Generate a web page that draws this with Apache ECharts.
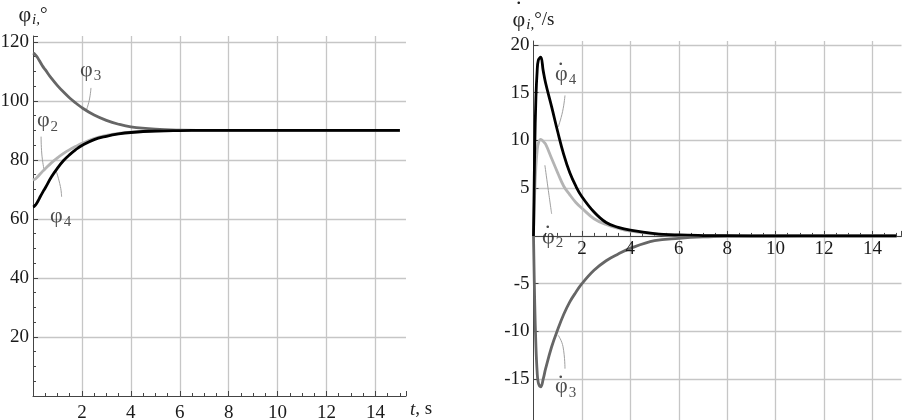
<!DOCTYPE html>
<html>
<head>
<meta charset="utf-8">
<script src="https://cdn.jsdelivr.net/npm/echarts@6/dist/echarts.min.js"></script>
<style>
html, body { margin: 0; padding: 0; background: #fff; }
#fig { width: 903px; height: 420px; }
</style>
</head>
<body>
<div id="fig"></div>
<script>
// time samples, s
var t = [0, 0.05, 0.1, 0.15, 0.2, 0.3, 0.4, 0.5, 0.75, 1, 1.25, 1.5, 1.75, 2, 2.5, 3, 3.5, 4, 5, 6, 7, 8, 10, 12, 15];

// angles, deg
var phi2 = [73.2, 73.4, 73.6, 74.0, 74.4, 75.3, 76.2, 77.0, 79.0, 80.7, 82.2, 83.5, 84.6, 85.6, 87.2, 88.3, 89.0, 89.4, 89.8, 89.95, 90, 90, 90, 90, 90];
var phi3 = [116.2, 116.0, 115.6, 115.1, 114.5, 113.1, 111.7, 110.6, 107.7, 105.2, 103.0, 101.0, 99.3, 97.7, 95.2, 93.4, 92.1, 91.2, 90.4, 90.1, 90.03, 90, 90, 90, 90];
var phi4 = [64.1, 64.3, 64.7, 65.3, 66.0, 67.6, 69.1, 70.5, 74.2, 77.2, 79.8, 81.8, 83.5, 84.9, 86.9, 88.0, 88.8, 89.3, 89.8, 89.95, 90, 90, 90, 90, 90];

// angular rates, deg/s
var dphi2 = [0, 4.5, 7.3, 8.9, 9.7, 10.1, 9.9, 9.6, 8.1, 6.6, 5.2, 4.3, 3.5, 2.9, 1.8, 1.2, 0.8, 0.5, 0.2, 0.07, 0.03, 0.01, 0, 0, 0];
var dphi3 = [0, -7, -11.5, -14.2, -15.4, -15.8, -15.0, -13.9, -11.6, -9.8, -8.2, -6.9, -5.9, -5.0, -3.6, -2.6, -1.9, -1.3, -0.5, -0.25, -0.1, -0.04, -0.01, 0, 0];
var dphi4 = [0, 9, 14.5, 17.2, 18.4, 18.7, 17.3, 16.0, 13.5, 10.9, 8.5, 6.6, 5.2, 4.1, 2.5, 1.4, 0.9, 0.6, 0.25, 0.1, 0.04, 0.02, 0, 0, 0];

// tick labels of the t axis on the rate plot (drawn under the zero line)
var rateTimeTicks = [2, 4, 6, 8, 10, 12, 14];

// callout labels [t, value, text]
var leftLabels = [[1.92, 110.5, '{p|φ}{s|3}'], [0.16, 93.5, '{p|φ}{s|2}'], [0.7, 61.0, '{p|φ}{s|4}']];
var rightLabels = [[0.89, 17.0, '{d|.}\n{p|φ}{s|4}'], [0.35, -0.05, '{d|.}\n{p|φ}{s|2}'], [0.89, -15.7, '{d|.}\n{p|φ}{s|3}']];

// callout leader lines
var leftLeaders = [
    [[2.37, 104.4], [2.3, 100.2], [2.17, 96.6]],
    [[0.33, 87.9], [0.36, 82.0], [0.45, 76.8]],
    [[0.95, 76.2], [1.12, 71.0], [1.17, 67.5]]
];
var rightLeaders = [
    [[1.3, 14.7], [1.2, 13.0], [1.02, 11.4]],
    [[0.47, 7.4], [0.6, 5.0], [0.75, 2.3]],
    [[1.02, -10.4], [1.22, -11.6], [1.3, -13.9]]
];

var SERIF = 'Liberation Serif';
var rich = {
    p: { fontFamily: SERIF, fontSize: 22, color: '#222' },
    d: { fontFamily: SERIF, fontSize: 22, color: '#222', lineHeight: 1, padding: [0, 0, 0, 3] },
    s: { fontFamily: SERIF, fontSize: 15, color: '#222', padding: [13, 0, 0, 1] },
    i: { fontFamily: SERIF, fontSize: 15, fontStyle: 'italic', color: '#222', padding: [11, 0, 0, 1] },
    n: { fontFamily: SERIF, fontSize: 19, color: '#222' },
    it: { fontFamily: SERIF, fontSize: 19, fontStyle: 'italic', color: '#222' }
};

function pairs(a) {
    return t.map(function (x, i) { return [x, a[i]]; });
}

function curve(name, data, color, k) {
    return {
        name: name, type: 'line', xAxisIndex: k, yAxisIndex: k,
        data: pairs(data), showSymbol: false, smooth: 0.4,
        lineStyle: { color: color, width: 2.8 }, silent: true, z: 3
    };
}

function leader(pts, k) {
    return {
        type: 'line', xAxisIndex: k, yAxisIndex: k, data: pts, showSymbol: false,
        smooth: 0.5, lineStyle: { color: '#a0a0a0', width: 1 }, silent: true, z: 2
    };
}

function labels(list, k) {
    return {
        type: 'scatter', xAxisIndex: k, yAxisIndex: k, symbolSize: 0, silent: true, z: 4,
        data: list.map(function (d) { return { value: [d[0], d[1]], name: d[2] }; }),
        label: { show: true, position: 'inside', align: 'left', formatter: function (p) { return p.name; }, rich: rich }
    };
}

function hideZero(v) { return v === 0 ? '' : String(v); }

var axisLine = { lineStyle: { color: '#444', width: 1 } };
var gridLine = { show: true, showMinLine: false, showMaxLine: false, lineStyle: { color: '#c6c6c6', width: 1.3 } };
var labelStyle = { fontFamily: SERIF, fontSize: 19, color: '#1a1a1a', showMinLabel: false, showMaxLabel: false, formatter: hideZero };

function xAxis(k, max, name, showLabel) {
    return {
        type: 'value', gridIndex: k, position: 'bottom', min: 0, max: max, interval: 2,
        name: name, nameLocation: 'end', nameGap: 4,
        nameTextStyle: { rich: rich, fontFamily: SERIF, fontSize: 19, color: '#222', verticalAlign: 'top', padding: [4, 0, 0, 0] },
        axisLine: Object.assign({ onZero: true }, axisLine),
        axisTick: { show: true, inside: true, length: 5, lineStyle: { color: '#444' } },
        minorTick: { show: true, splitNumber: 4, length: 3, lineStyle: { color: '#444' } },
        splitLine: gridLine,
        axisLabel: Object.assign({ show: showLabel, margin: 8 }, labelStyle)
    };
}

function yAxis(k, min, max, interval, name, minor) {
    return {
        type: 'value', gridIndex: k, min: min, max: max, interval: interval,
        name: name, nameLocation: 'end', nameGap: 8,
        nameTextStyle: { rich: rich, align: 'center', fontFamily: SERIF, color: '#222' },
        axisLine: Object.assign({ onZero: false }, axisLine),
        axisTick: { show: true, inside: true, length: 5, lineStyle: { color: '#444' } },
        minorTick: { show: minor, splitNumber: 4, length: 3, lineStyle: { color: '#444' } },
        splitLine: gridLine,
        axisLabel: Object.assign({ show: true, margin: 4 }, labelStyle)
    };
}

var chart = echarts.init(document.getElementById('fig'));
chart.setOption({
    animation: false,
    backgroundColor: '#fff',
    grid: [
        { left: 33, top: 36, width: 373, height: 360, outerBoundsMode: 'none' },
        { left: 533.5, top: 41, width: 368, height: 386, outerBoundsMode: 'none' }
    ],
    xAxis: [
        xAxis(0, 15.25, '{it|t}, s', true),
        xAxis(1, 15.2, '', false)
    ],
    yAxis: [
        yAxis(0, 0, 122, 20, '{p|φ}{i|i,}{n|°}', true),
        yAxis(1, -20, 20.4, 5, '{p|φ}{i|i,}{n|°/s}', false)
    ],
    graphic: [
        { type: 'text', x: 516, y: -13, silent: true, style: { text: '.', font: '22px "Liberation Serif"', fill: '#222' } }
    ],
    series: [
        curve('φ3', phi3, '#666', 0),
        curve('φ2', phi2, '#b4b4b4', 0),
        curve('φ4', phi4, '#000', 0),
        curve('dφ3', dphi3, '#666', 1),
        curve('dφ2', dphi2, '#b4b4b4', 1),
        curve('dφ4', dphi4, '#000', 1)
    ].concat(
        leftLeaders.map(function (p) { return leader(p, 0); }),
        rightLeaders.map(function (p) { return leader(p, 1); }),
        [labels(leftLabels, 0), labels(rightLabels, 1)],
        [{
            type: 'scatter', xAxisIndex: 1, yAxisIndex: 1, symbolSize: 0, silent: true, z: 5,
            data: rateTimeTicks.map(function (v) { return [v, 0]; }),
            label: {
                show: true, position: 'bottom', distance: 4, opacity: 1,
                fontFamily: SERIF, fontSize: 19, color: '#1a1a1a',
                formatter: function (p) { return String(p.value[0]); }
            }
        }]
    )
});
</script>
</body>
</html>
